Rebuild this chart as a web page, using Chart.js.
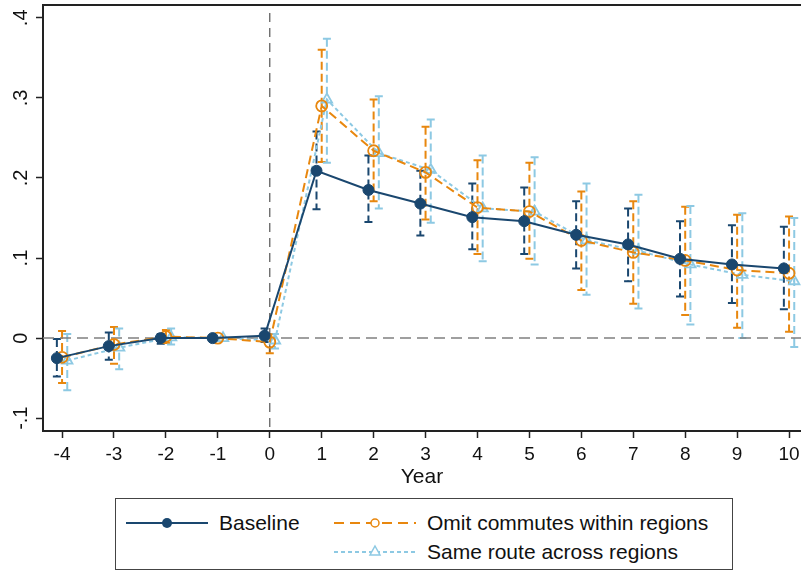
<!DOCTYPE html>
<html>
<head>
<meta charset="utf-8">
<script src="https://cdn.jsdelivr.net/npm/chart.js@4.4.1/dist/chart.umd.min.js"></script>
<style>
  html, body { margin: 0; padding: 0; background: #fff; }
  #wrap { position: relative; width: 801px; height: 572px; font-family: "Liberation Sans", Arial, sans-serif; }
  #chart { position: absolute; left: 0; top: 0; }
  #legend {
    position: absolute; left: 115px; top: 498px; width: 618px; height: 72px;
    border: 1px solid #444; box-sizing: border-box; background: #fff;
  }
  .item { position: absolute; display: flex; align-items: center; font-size: 21px; color: #111; white-space: nowrap; }
  .item svg { margin-right: 11px; }
</style>
</head>
<body>
<div id="wrap">
  <canvas id="chart" width="801" height="572"></canvas>
  <div id="legend"></div>
</div>
<script>
// Event-time estimates with 95% confidence bounds
const years = [-4, -3, -2, -1, 0, 1, 2, 3, 4, 5, 6, 7, 8, 9, 10];

const baseEst = [-0.025, -0.010, 0.000, 0.000, 0.003, 0.209, 0.185, 0.168, 0.151, 0.146, 0.129, 0.117, 0.099, 0.092, 0.087];
const baseLo  = [-0.048, -0.027, -0.007, 0.000, -0.005, 0.161, 0.145, 0.128, 0.111, 0.105, 0.087, 0.071, 0.052, 0.044, 0.036];
const baseHi  = [-0.001, 0.007, 0.005, 0.000, 0.012, 0.258, 0.228, 0.209, 0.193, 0.188, 0.171, 0.162, 0.146, 0.141, 0.139];

const omitEst = [-0.024, -0.008, 0.002, 0.000, -0.005, 0.290, 0.234, 0.207, 0.163, 0.158, 0.122, 0.107, 0.097, 0.085, 0.081];
const omitLo  = [-0.056, -0.032, -0.006, 0.000, -0.019, 0.220, 0.171, 0.148, 0.105, 0.099, 0.060, 0.043, 0.029, 0.013, 0.008];
const omitHi  = [0.009, 0.014, 0.010, 0.000, 0.005, 0.360, 0.298, 0.264, 0.222, 0.219, 0.183, 0.171, 0.164, 0.154, 0.152];

const routeEst = [-0.028, -0.012, 0.001, 0.000, -0.003, 0.298, 0.231, 0.210, 0.162, 0.158, 0.122, 0.109, 0.092, 0.079, 0.071];
const routeLo  = [-0.065, -0.039, -0.008, 0.000, -0.013, 0.219, 0.162, 0.144, 0.096, 0.092, 0.054, 0.037, 0.017, 0.000, -0.011];
const routeHi  = [0.005, 0.012, 0.012, 0.000, 0.005, 0.374, 0.302, 0.273, 0.228, 0.226, 0.193, 0.179, 0.165, 0.156, 0.150];

const yTicks = [-0.1, 0, 0.1, 0.2, 0.3, 0.4];
const yTickLabels = ["-.1", "0", ".1", ".2", ".3", ".4"];

const navy = "#1a476f";
const orange = "#e8870e";
const ltblue = "#8dc9e3";

function series(label, est, lo, hi, shift, color, dash, pointStyle, filled) {
  return {
    label: label,
    data: years.map((yr, i) => ({ x: yr + shift, y: est[i] })),
    ciLo: lo,
    ciHi: hi,
    borderColor: color,
    borderWidth: 2,
    borderDash: dash,
    pointStyle: pointStyle,
    pointRadius: pointStyle === "triangle" ? 6 : 5.5,
    pointBorderWidth: filled ? 1 : 1.8,
    pointBorderColor: color,
    pointBackgroundColor: filled ? color : "rgba(255,255,255,0)",
    tension: 0,
    fill: false
  };
}

// Dashed confidence bars with caps, drawn under the point estimates
const errorBars = {
  id: "errorBars",
  beforeDatasetsDraw(chart) {
    const ctx = chart.ctx;
    const xs = chart.scales.x, ys = chart.scales.y;
    chart.data.datasets.forEach((ds) => {
      ctx.save();
      ctx.strokeStyle = ds.borderColor;
      ctx.lineWidth = 2;
      ds.data.forEach((p, i) => {
        const px = xs.getPixelForValue(p.x);
        const top = ys.getPixelForValue(ds.ciHi[i]);
        const bot = ys.getPixelForValue(ds.ciLo[i]);
        ctx.setLineDash([8, 4]);
        ctx.beginPath();
        ctx.moveTo(px, top);
        ctx.lineTo(px, bot);
        ctx.stroke();
        ctx.setLineDash([]);
        ctx.beginPath();
        ctx.moveTo(px - 4, top);
        ctx.lineTo(px + 4, top);
        ctx.moveTo(px - 4, bot);
        ctx.lineTo(px + 4, bot);
        ctx.stroke();
      });
      ctx.restore();
    });
  }
};

// Reference lines at zero, top frame line and rotated y labels
const frame = {
  id: "frame",
  beforeDatasetsDraw(chart) {
    const ctx = chart.ctx, a = chart.chartArea;
    const xs = chart.scales.x, ys = chart.scales.y;
    ctx.save();
    ctx.strokeStyle = "#808080";
    ctx.lineWidth = 1.5;
    ctx.setLineDash([11, 6]);
    const y0 = ys.getPixelForValue(0);
    ctx.beginPath();
    ctx.moveTo(a.left, y0);
    ctx.lineTo(a.right, y0);
    ctx.stroke();
    const x0 = xs.getPixelForValue(0);
    ctx.strokeStyle = "#555";
    ctx.lineWidth = 1.2;
    ctx.setLineDash([9, 6]);
    ctx.beginPath();
    ctx.moveTo(x0, a.top + 8);
    ctx.lineTo(x0, a.bottom);
    ctx.stroke();
    ctx.restore();
  },
  afterDraw(chart) {
    const ctx = chart.ctx, a = chart.chartArea;
    const ys = chart.scales.y;
    ctx.save();
    ctx.strokeStyle = "#222";
    ctx.lineWidth = 2;
    ctx.beginPath();
    ctx.moveTo(a.left - 1, a.top);
    ctx.lineTo(a.right, a.top);
    ctx.stroke();
    ctx.fillStyle = "#111";
    ctx.font = '20px "Liberation Sans", Arial, sans-serif';
    ctx.textAlign = "center";
    ctx.textBaseline = "middle";
    yTicks.forEach((v, i) => {
      ctx.save();
      ctx.translate(21, ys.getPixelForValue(v));
      ctx.rotate(-Math.PI / 2);
      ctx.fillText(yTickLabels[i], 0, 0);
      ctx.restore();
    });
    ctx.restore();
  }
};

new Chart(document.getElementById("chart"), {
  type: "line",
  data: {
    datasets: [
      series("Baseline", baseEst, baseLo, baseHi, -0.1, navy, [], "circle", true),
      series("Omit commutes within regions", omitEst, omitLo, omitHi, 0, orange, [9, 5], "circle", false),
      series("Same route across regions", routeEst, routeLo, routeHi, 0.1, ltblue, [4, 3], "triangle", false)
    ]
  },
  options: {
    responsive: false,
    animation: false,
    layout: { autoPadding: false, padding: { top: 5, right: 0, bottom: 81, left: 0 } },
    plugins: { legend: { display: false }, tooltip: { enabled: false } },
    scales: {
      x: {
        type: "linear",
        min: -4.367,
        max: 10.23,
        afterBuildTicks: (s) => { s.ticks = years.map((v) => ({ value: v })); },
        afterFit: (s) => { s.height = 60; s.paddingLeft = 0; s.paddingRight = 0; },
        grid: { drawOnChartArea: false, drawTicks: true, tickLength: 7, tickColor: "#222", tickWidth: 1.5 },
        border: { color: "#222", width: 2 },
        ticks: { color: "#111", font: { family: '"Liberation Sans", Arial, sans-serif', size: 19 }, padding: 5, maxRotation: 0, autoSkip: false },
        title: { display: true, text: "Year", color: "#111", font: { family: '"Liberation Sans", Arial, sans-serif', size: 21 }, padding: { top: 0, bottom: 1 } }
      },
      y: {
        type: "linear",
        min: -0.116,
        max: 0.416,
        afterBuildTicks: (s) => { s.ticks = yTicks.map((v) => ({ value: v })); },
        afterFit: (s) => { s.width = 43; },
        grid: { drawOnChartArea: false, drawTicks: true, tickLength: 7, tickColor: "#222", tickWidth: 1.5 },
        border: { color: "#222", width: 2 },
        ticks: { display: false }
      }
    }
  },
  plugins: [errorBars, frame]
});

// Legend: two columns, the second holding both alternative specifications
function sample(color, dash, marker) {
  let m = "";
  if (marker === "dot") m = `<circle cx="41" cy="10" r="5" fill="${color}"/>`;
  if (marker === "ring") m = `<circle cx="41" cy="10" r="4" fill="#fff" stroke="${color}" stroke-width="1.5"/>`;
  if (marker === "tri") m = `<polygon points="41,4 46,13 36,13" fill="#fff" stroke="${color}" stroke-width="1.5"/>`;
  return `<svg width="82" height="20"><line x1="0" y1="10" x2="82" y2="10" stroke="${color}" stroke-width="2" stroke-dasharray="${dash}"/>${m}</svg>`;
}
const legend = document.getElementById("legend");
const items = [
  { text: "Baseline", color: navy, dash: "", marker: "dot", left: 10, top: 12 },
  { text: "Omit commutes within regions", color: orange, dash: "10,6", marker: "ring", left: 218, top: 12 },
  { text: "Same route across regions", color: ltblue, dash: "4,3", marker: "tri", left: 218, top: 41 }
];
items.forEach((it) => {
  const d = document.createElement("div");
  d.className = "item";
  d.style.left = it.left + "px";
  d.style.top = it.top + "px";
  d.innerHTML = sample(it.color, it.dash, it.marker) + "<span>" + it.text + "</span>";
  legend.appendChild(d);
});
</script>
</body>
</html>
